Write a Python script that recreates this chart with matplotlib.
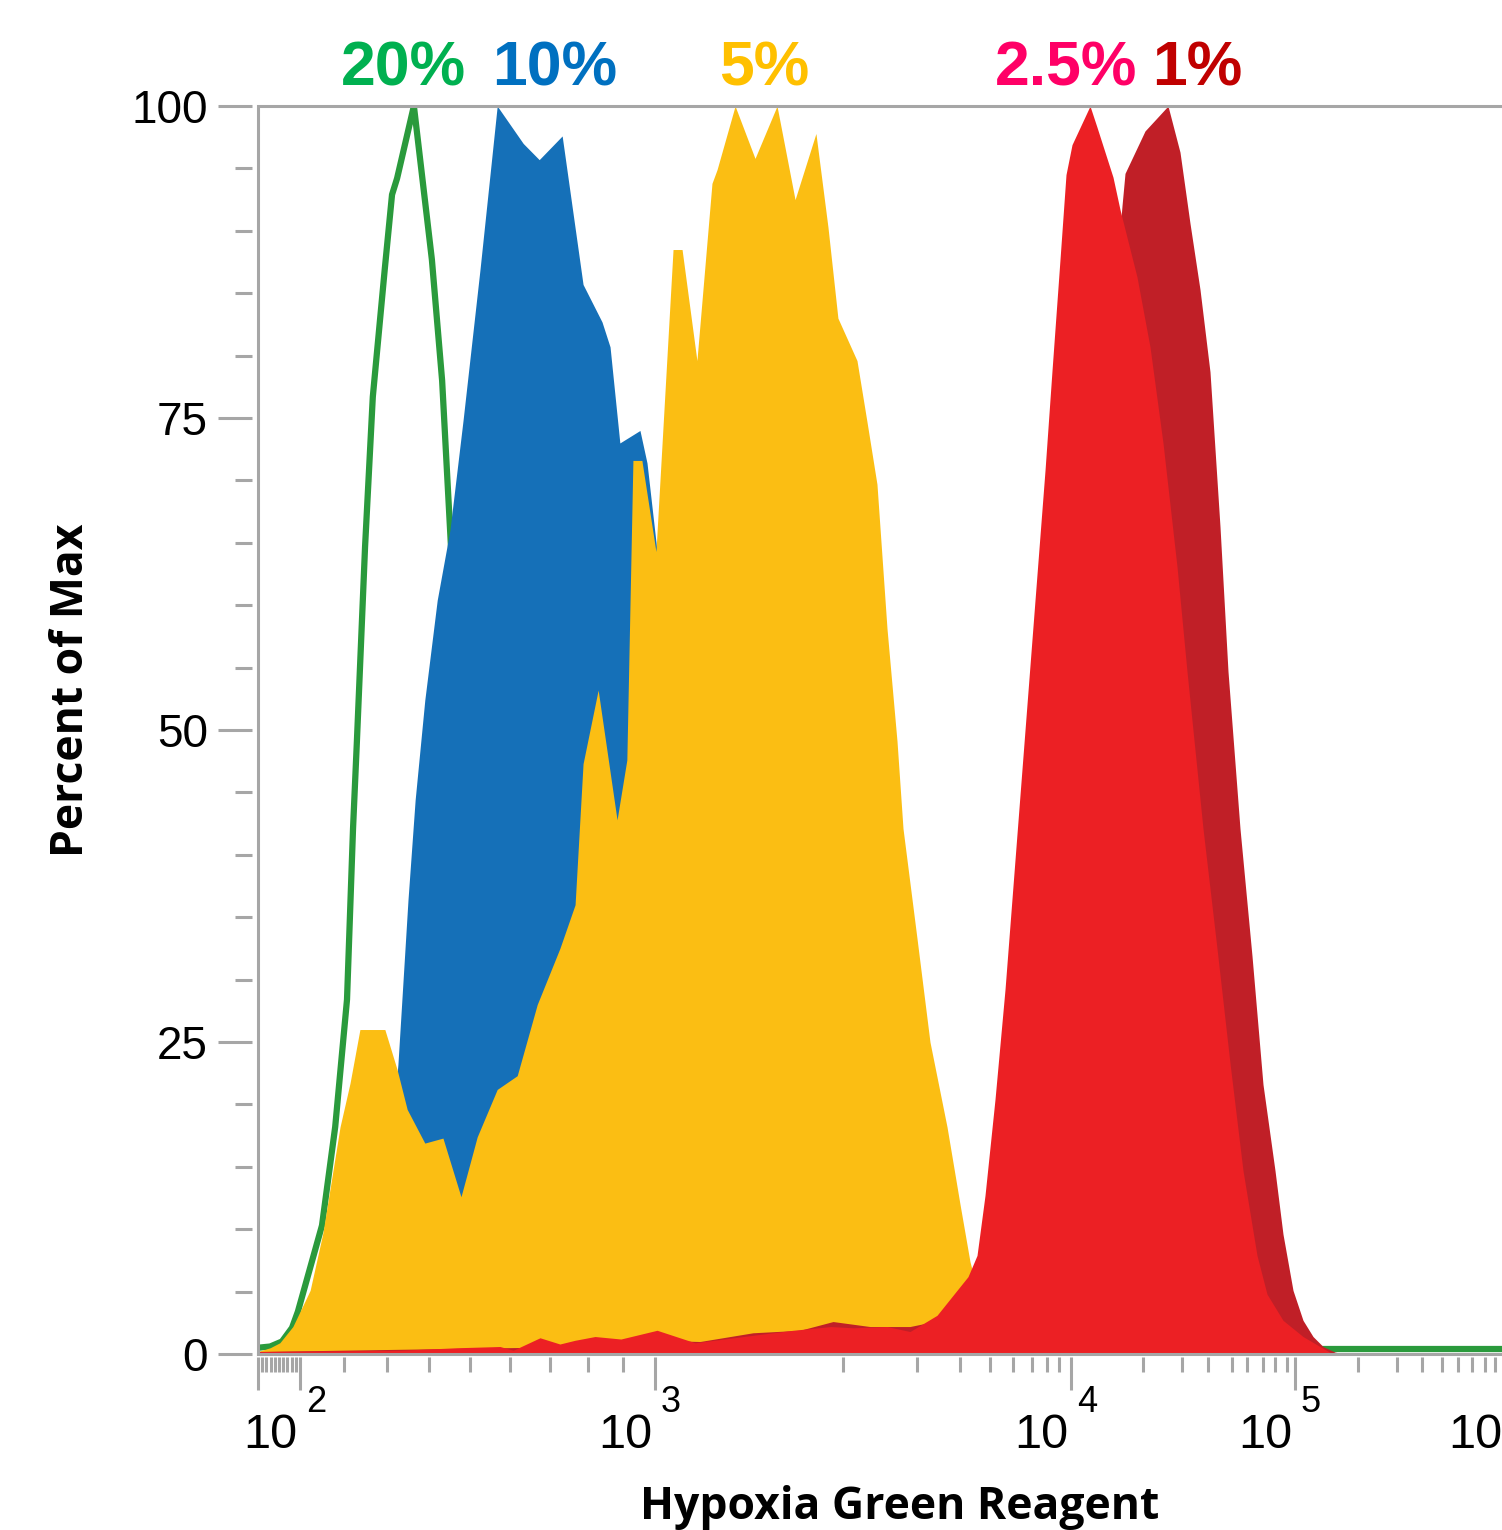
import numpy as np
import matplotlib.pyplot as plt
from matplotlib.transforms import offset_copy

# Калибровка оси прибора: значение интенсивности -> канал отображения (по засечкам оси)
axis_values = np.array([0, 100, 200, 300, 400, 500, 600, 700, 800, 900,
                        1e3, 2e3, 3e3, 4e3, 5e3, 6e3, 7e3, 8e3, 9e3,
                        1e4, 2e4, 3e4, 4e4, 5e4, 6e4, 7e4, 8e4, 9e4,
                        1e5, 2e5, 3e5, 4e5, 5e5, 6e5, 7e5, 8e5, 9e5, 1e6])
axis_channels = np.array([0, 42, 86, 129, 171, 212, 252, 292, 330, 365,
                          397, 585, 659, 702, 732, 755, 774, 789, 801,
                          813, 885, 924, 950, 974, 989, 1005, 1017, 1029,
                          1037, 1100, 1139, 1164, 1184, 1200, 1214, 1227, 1237, 1247])

# Гистограммы (процент от максимума)
x_20 = [0, 29, 57, 81, 95, 123, 150, 180, 207, 221, 230, 249, 267, 295, 312, 324,
        364, 407, 432, 451, 500, 575, 675, 1000, 1e6]
y_20 = [0.5, 0.6, 1.0, 2.1, 3.4, 6.9, 10.3, 18.2, 28.4, 42.1, 49.1, 64.7, 76.7, 87.0,
        92.9, 94.2, 100, 87.7, 78.0, 66.3, 36, 8, 1, 0.4, 0.4]

x_10 = [0, 100, 191, 260, 307, 326, 350, 367, 390, 420, 451, 483, 525, 550, 568, 633, 673,
        732, 787, 840, 863, 891, 953, 975, 1011, 1080, 1186, 1346, 1559, 1800, 1e6]
y_10 = [0.2, 0.7, 2.7, 8.3, 16.3, 23.2, 36.4, 44.4, 52.4, 60.4, 66.0, 74.8, 86.9, 94.5, 100,
        97.0, 95.7, 97.6, 85.7, 82.7, 80.7, 73.0, 74.0, 71.4, 64.3, 44.4, 20.4, 4.3, 0.7, 0, 0]

x_5 = [0, 29, 52, 83, 123, 152, 191, 214, 237, 295, 324, 348, 390, 434, 478, 518, 568, 618,
       668, 726, 766, 787, 829, 883, 912, 931, 959, 1005, 1096, 1144, 1223, 1303, 1330, 1426,
       1532, 1649, 1745, 1856, 1920, 1973, 2189, 2324, 2459, 2595, 2730, 2811, 3000, 3302,
       3698, 4000, 4333, 4833, 5435, 6105, 7000, 1e6]
y_5 = [0.2, 0.5, 0.9, 2.2, 5.1, 9.7, 18.2, 21.7, 26.0, 26.0, 22.8, 19.6, 16.9, 17.3, 12.6,
       17.4, 21.2, 22.3, 28.0, 32.5, 36.0, 47.3, 53.2, 42.8, 47.6, 71.6, 71.6, 64.3, 88.5,
       88.5, 79.6, 93.8, 94.9, 100, 95.8, 100, 92.5, 97.8, 90.3, 83.0, 79.6, 74.7, 69.7,
       58.1, 49.1, 42.1, 33.3, 25.0, 18.2, 12.0, 7.4, 2.7, 0.7, 0.2, 0, 0]

x_25 = [0, 331, 468, 575, 608, 675, 726, 766, 820, 894, 1011, 1213, 1521, 1734, 1936, 2135,
        2595, 2905, 3465, 3930, 4267, 4567, 4833, 5217, 5652, 6105, 6632, 7200, 7867, 8417,
        9083, 9583, 10139, 12639, 13611, 15833, 16806, 19167, 21795, 25128, 28718, 31923,
        38077, 43750, 49167, 57333, 66250, 73333, 86667, 112698, 139683, 160000, 1e6]
y_25 = [0.2, 0.3, 0.5, 0.6, 0.3, 1.3, 0.8, 1.1, 1.4, 1.2, 1.9, 0.9, 1.5, 1.9, 2.2, 2.1,
        2.2, 1.8, 3.1, 5.1, 6.2, 7.9, 12.7, 20.4, 29.2, 39.6, 50.0, 60.4, 70.8, 78.8,
        87.7, 94.5, 96.9, 100, 98.3, 94.3, 91.7, 86.3, 80.7, 73.0, 63.1, 54.7,
        42.1, 32.5, 23.3, 14.7, 7.9, 4.8, 2.7, 1.4, 0.6, 0, 0]

x_1 = [0, 575, 834, 1011, 1239, 1521, 1771, 1947, 2365, 2905, 3535, 5000, 7533, 9917, 12639,
       15417, 17083, 17500, 20513, 26410, 29487, 33077, 36923, 40833, 45000, 48333, 55333,
       63125, 70000, 80000, 86667, 97500, 112698, 128571, 144444, 163492, 180000, 1e6]
y_1 = [0.2, 0.5, 0.6, 1.1, 1.0, 1.7, 1.9, 2.6, 2.2, 2.2, 2.7, 1.9, 12.3, 36.4, 60.4,
       80.4, 92.0, 94.6, 98.0, 100, 96.3, 90.6, 85.3, 78.7, 66.3, 54.7, 42.1,
       31.9, 21.6, 14.7, 9.6, 5.1, 2.7, 1.4, 0.6, 0.15, 0, 0]

decades = [100, 1e3, 1e4, 1e5, 1e6]
exponents = ['2', '3', '4', '5', '6']
y_major = [0, 25, 50, 75, 100]

grey = '#a6a6a6'
narrow = ['Liberation Sans Narrow', 'Liberation Sans', 'DejaVu Sans']
bold_font = ['Open Sans', 'DejaVu Sans']


def forward(v):
    return np.interp(v, axis_values, axis_channels)


def inverse(c):
    return np.interp(c, axis_channels, axis_values)


fig = plt.figure(figsize=(15.02, 15.30), dpi=100)
ax = fig.add_axes([258 / 1502, 1 - 1354 / 1530, 1247 / 1502, 1248 / 1530])
ax.set_xscale('function', functions=(forward, inverse))

ax.plot(x_20, y_20, color='#2a9a3c', lw=4.5, zorder=1, solid_joinstyle='miter')
ax.fill_between(x_10, y_10, color='#1570b8', lw=0, zorder=2)
ax.fill_between(x_5, y_5, color='#fbbe13', lw=0, zorder=3)
ax.fill_between(x_1, y_1, color='#c01f27', lw=0, zorder=4)
ax.fill_between(x_25, y_25, color='#ec2024', lw=0, zorder=5)

ax.set_xlim(0, 1e6)
ax.set_ylim(0, 100)

# оси: засечки с отступом от рамки
for side in ['left', 'bottom', 'right', 'top']:
    ax.spines[side].set_color('none')
ax.spines['left'].set_position(('outward', 4.3))
ax.spines['bottom'].set_position(('outward', 2.5))
ax.plot([0, 0, 1], [0, 1, 1], transform=ax.transAxes, color=grey, lw=2.2,
        clip_on=False, zorder=10, solid_joinstyle='miter')
ax.plot([0, 1], [0, 0], transform=ax.transAxes, color=grey, lw=2.2,
        clip_on=False, zorder=10)

minor_x = [10 * m for m in range(1, 10)]
minor_x += [m * d for d in [100, 1e3, 1e4, 1e5] for m in range(2, 10)]
ax.set_xticks([0] + decades)
ax.set_xticks(minor_x, minor=True)
ax.set_yticks(y_major)
ax.set_yticks(np.arange(0, 101, 5), minor=True)
ax.tick_params(axis='x', which='major', length=23.8, width=2.2, color=grey, labelbottom=False)
ax.tick_params(axis='x', which='minor', length=10.8, width=2.2, color=grey)
ax.tick_params(axis='y', which='major', length=24.5, width=2.2, color=grey,
               labelsize=33, pad=7.2)
ax.tick_params(axis='y', which='minor', length=12.2, width=2.2, color=grey)
for lab in ax.get_yticklabels():
    lab.set_family(narrow)

# подписи декад 10^n
trans = ax.get_xaxis_transform()
base_tr = offset_copy(trans, fig=fig, x=-3, y=-94, units='dots')
exp_tr = offset_copy(trans, fig=fig, x=6, y=-58, units='dots')
for d, e in zip(decades, exponents):
    ax.text(d, 0, '10', transform=base_tr, ha='right', va='baseline',
            fontsize=35, family=narrow, clip_on=False)
    ax.text(d, 0, e, transform=exp_tr, ha='left', va='baseline',
            fontsize=26, family=narrow, clip_on=False)

fig.text(900 / 1502, 1 - 1519 / 1530, 'Hypoxia Green Reagent', ha='center', va='baseline',
         fontsize=32, fontweight='bold', family=bold_font)
fig.text(72 / 1502, 1 - 690 / 1530, 'Percent of Max', rotation=90, ha='center', va='center',
         fontsize=32, fontweight='bold', family=bold_font)

# подписи концентраций кислорода
labels = ['20%', '10%', '5%', '2.5%', '1%']
label_colors = ['#00b050', '#0070c0', '#ffc000', '#ff0066', '#c00000']
label_x = [403, 555, 764, 1066, 1197]
for t, c, lx in zip(labels, label_colors, label_x):
    fig.text(lx / 1502, 1 - 85 / 1530, t, color=c, ha='center', va='baseline',
             fontsize=45, fontweight='bold', family=['Liberation Sans', 'DejaVu Sans'])

fig.savefig('out.png', dpi=100)
